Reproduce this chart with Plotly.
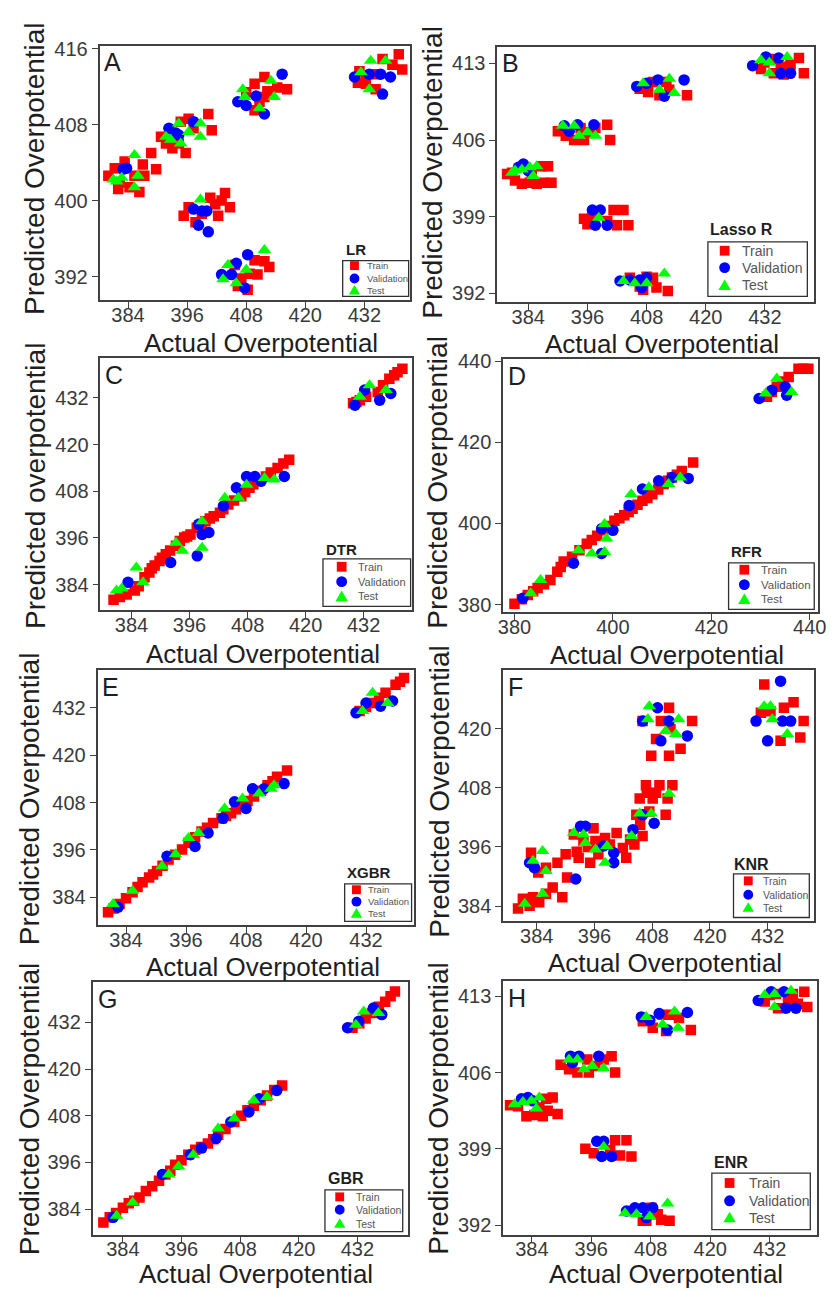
import plotly.graph_objects as go

W, H = 837, 1291
FONT = "Liberation Sans, Arial, sans-serif"

# ---------------- tick labels ----------------
TICKS_X_STD = [384, 396, 408, 420, 432]
TICKS_X_D = [380, 400, 420, 440]
TICKS_Y_A = [392, 400, 408, 416]
TICKS_Y_BH = [392, 399, 406, 413]
TICKS_Y_CEG = [384, 396, 408, 420, 432]
TICKS_Y_D = [380, 400, 420, 440]
TICKS_Y_F = [384, 396, 408, 420]

SERIES = ["Train", "Validation", "Test"]
MODELS = ["LR", "Lasso R", "DTR", "RFR", "XGBR", "KNR", "GBR", "ENR"]

# ---------------- data (Actual, Predicted) ----------------
# A : LR
A_train_x = [380.0, 381.3, 382.3, 383.3, 384.3, 385.3, 386.3, 387.0, 388.7, 389.7, 387.3, 382.0,
             390.7, 391.7, 393.0, 394.7, 395.7, 396.3, 397.3, 400.3, 401.0, 392.3, 394.3,
             395.3, 396.3, 397.7, 400.7, 401.7, 403.7, 404.7, 402.3, 399.0, 403.0,
             405.7, 407.0, 408.3, 409.7, 410.3, 411.7, 412.7, 408.7, 406.3,
             408.0, 409.7, 411.7, 409.7, 411.7, 414.3, 416.3, 412.3, 410.7,
             431.0, 430.7, 432.3, 434.3, 435.7, 437.7, 439.0, 439.7, 434.3, 432.3]
A_train_y = [402.6, 403.4, 401.9, 404.1, 401.4, 402.6, 400.9, 403.8, 405.0, 403.3, 402.6, 401.2,
             406.7, 406.0, 405.5, 408.3, 405.0, 408.6, 407.6, 409.1, 407.4, 406.4, 406.0,
             398.4, 399.3, 397.7, 400.3, 399.6, 400.8, 399.3, 398.4, 398.6, 400.0,
             393.2, 391.8, 390.6, 393.7, 392.2, 393.6, 393.0, 392.3, 391.0,
             411.4, 412.3, 413.0, 409.5, 410.9, 411.9, 411.7, 411.5, 410.4,
             413.6, 412.4, 412.3, 413.3, 414.9, 414.3, 415.4, 413.8, 411.7, 413.1]
A_val_x = [383.0, 383.7, 392.3, 393.7, 397.3, 394.3, 397.3, 398.3, 400.3, 400.0, 399.0,
           403.0, 405.0, 406.0, 408.3, 407.7, 406.3, 408.0, 410.0, 411.7, 415.3,
           430.0, 433.0, 435.3, 437.3, 435.7]
A_val_y = [403.3, 403.4, 407.6, 407.1, 408.3, 406.9, 399.1, 397.4, 396.7, 398.9, 398.9,
           392.2, 392.2, 393.4, 394.3, 390.8, 410.4, 410.0, 411.0, 409.1, 413.3,
           413.0, 413.3, 413.3, 413.0, 411.2]
A_test_x = [381.0, 382.7, 385.3, 386.0, 385.3, 381.7, 391.7, 394.3, 396.3, 398.7, 398.7, 392.7, 394.7,
            398.7, 403.3, 404.3, 406.0, 408.0, 411.7, 407.3, 407.7, 410.7, 413.0, 413.7,
            431.3, 433.3, 436.3, 433.0]
A_test_y = [402.2, 402.4, 404.8, 402.6, 401.4, 402.0, 406.7, 408.1, 407.2, 408.1, 406.7, 406.4, 406.0,
            400.1, 391.7, 393.2, 391.3, 392.7, 394.8, 411.7, 410.9, 409.7, 412.6, 410.9,
            413.5, 414.7, 414.7, 411.7]

# B : Lasso R
B_train_x = [379.7, 381.3, 382.7, 384.3, 385.7, 387.0, 388.7, 388.0, 386.7, 380.7, 384.7,
             390.0, 391.6, 393.3, 395.3, 396.0, 397.6, 400.0, 400.6, 394.6,
             395.3, 397.0, 401.3, 403.3, 404.3, 402.0, 400.0, 396.0,
             404.6, 406.6, 408.0, 410.0, 412.3, 409.3, 407.3,
             406.6, 408.3, 410.6, 412.6, 416.2, 412.0, 409.3,
             431.2, 433.2, 435.2, 437.2, 438.9, 439.9, 431.9, 435.8, 433.8]
B_train_y = [402.9, 402.3, 402.0, 402.1, 402.0, 402.1, 402.1, 403.6, 403.6, 403.0, 402.9,
             406.8, 406.4, 406.0, 406.0, 406.7, 407.1, 407.4, 406.0, 407.1,
             398.8, 399.1, 399.6, 399.6, 398.2, 398.2, 398.6, 398.3,
             393.4, 392.6, 393.5, 392.5, 392.2, 393.4, 392.3,
             410.7, 410.4, 410.1, 410.6, 410.1, 411.3, 411.3,
             412.5, 413.4, 412.7, 412.9, 413.5, 412.1, 413.1, 412.0, 412.1]
B_val_x = [382.0, 383.0, 384.0, 391.3, 392.3, 394.0, 397.3, 397.0, 398.6, 397.6, 400.0,
           402.6, 404.6, 406.6, 408.0, 407.0, 406.0, 408.0, 410.3, 411.6, 415.6,
           429.5, 432.2, 434.8, 435.2, 437.2]
B_val_y = [403.5, 403.8, 403.2, 407.3, 406.8, 407.4, 407.4, 399.6, 399.6, 398.2, 398.2,
           393.1, 393.2, 393.2, 393.4, 392.5, 410.9, 411.2, 411.5, 410.0, 411.5,
           412.8, 413.6, 413.5, 412.1, 412.1]
B_test_x = [380.7, 382.7, 384.3, 385.7, 385.0, 381.3, 391.0, 393.3, 394.3, 396.0, 397.6,
            398.3, 403.3, 405.6, 408.0, 411.6, 407.3, 410.6, 412.6, 413.6,
            431.2, 432.9, 432.9, 436.5]
B_test_y = [403.0, 403.3, 403.5, 403.6, 402.7, 403.2, 407.3, 407.3, 406.4, 406.7, 406.4,
            398.9, 393.1, 392.9, 392.9, 393.8, 411.2, 410.6, 411.6, 410.3,
            413.3, 413.1, 412.1, 413.6]

# C : DTR
C_train_x = [380.3, 381.6, 383.0, 384.7, 385.5, 386.7, 387.7, 388.2, 388.8, 389.8, 390.3, 391.1,
             392.0, 393.2, 394.0, 394.9, 395.5, 396.2, 397.5, 398.5, 399.3, 400.2, 401.0, 402.3,
             403.0, 404.0, 405.2, 406.7, 407.5, 408.4, 409.2, 410.1, 411.8, 412.8, 414.2, 415.4,
             416.6, 429.8, 430.5, 431.2, 432.5, 434.9, 436.0, 437.3, 438.3, 439.0, 440.0]
C_train_y = [380.1, 380.8, 381.5, 382.5, 383.6, 385.9, 387.1, 388.2, 388.9, 390.1, 390.9, 391.8,
             392.8, 394.0, 395.2, 396.1, 396.4, 396.9, 398.6, 399.6, 400.3, 401.0, 401.6, 402.5,
             403.4, 404.6, 405.6, 406.7, 407.8, 408.9, 409.8, 410.6, 411.8, 412.8, 414.0, 415.1,
             416.1, 430.6, 430.9, 431.4, 432.3, 433.5, 435.2, 436.9, 437.8, 438.6, 439.5]
C_val_x = [383.3, 392.1, 397.6, 397.9, 398.6, 400.0, 403.0, 405.7, 407.8, 409.5, 410.8, 415.6,
           430.2, 432.2, 435.3, 437.6]
C_val_y = [384.6, 389.7, 391.4, 399.5, 396.9, 397.4, 404.2, 408.9, 411.8, 411.8, 410.6, 411.8,
           430.1, 434.0, 431.4, 433.1]
C_test_x = [380.9, 382.0, 385.0, 386.4, 393.2, 394.5, 398.6, 398.6, 403.3, 406.1, 407.8, 411.5,
            413.5, 431.2, 433.2, 436.6]
C_test_y = [382.5, 383.0, 388.4, 384.6, 394.8, 392.7, 400.3, 393.5, 406.3, 406.3, 409.7, 411.4,
            411.0, 432.3, 435.2, 434.0]

# D : RFR
D_train_x = [380.0, 381.5, 382.7, 383.8, 384.7, 386.0, 387.3, 388.7, 389.4, 390.0, 391.7, 393.2,
             394.7, 395.7, 396.8, 398.0, 399.2, 400.3, 401.3, 402.3, 403.2, 404.0, 405.0, 406.0,
             407.0, 408.0, 409.2, 410.3, 411.2, 412.0, 413.0, 414.0, 416.3,
             431.3, 432.3, 433.3, 434.5, 435.7, 437.7, 438.7, 439.7]
D_train_y = [380.2, 381.3, 382.4, 383.3, 384.1, 385.0, 386.1, 388.1, 389.3, 390.6, 391.8, 393.4,
             395.0, 395.9, 397.0, 398.3, 399.4, 400.7, 401.3, 402.0, 402.8, 403.6, 404.6, 405.6,
             406.3, 407.2, 408.4, 409.7, 410.5, 411.3, 412.0, 412.9, 415.0,
             431.2, 432.4, 433.7, 435.0, 436.1, 438.1, 438.1, 438.1]
D_val_x = [381.7, 392.0, 397.7, 397.7, 400.0, 403.3, 406.0, 409.3, 412.0, 415.3,
           429.7, 432.3, 435.0, 435.3]
D_val_y = [381.6, 390.2, 392.6, 398.7, 398.3, 404.4, 408.5, 410.5, 411.3, 411.1,
           430.8, 432.8, 433.7, 431.6]
D_test_x = [383.3, 385.3, 393.0, 395.7, 398.3, 398.7, 398.3, 403.7, 407.3, 411.3, 413.7,
            431.0, 433.3, 436.3]
D_test_y = [382.8, 386.1, 393.4, 392.6, 399.9, 396.3, 393.0, 407.2, 408.9, 409.7, 411.3,
            432.0, 435.7, 432.4]

# E : XGBR
E_train_x = [380.4, 381.5, 382.7, 384.0, 385.3, 386.3, 387.3, 388.6, 389.4, 390.2, 391.3, 392.5,
             393.8, 395.2, 396.5, 397.8, 399.1, 400.2, 401.4, 403.1, 404.0, 405.0, 406.0, 407.0,
             408.3, 409.6, 411.0, 412.3, 413.3, 414.2, 416.2,
             430.7, 432.0, 433.3, 434.6, 435.9, 437.9, 438.8, 439.6]
E_train_y = [380.2, 381.2, 382.3, 383.8, 385.3, 386.6, 387.8, 389.0, 389.8, 390.7, 392.0, 393.6,
             394.8, 396.1, 397.8, 399.2, 400.7, 401.6, 402.8, 404.0, 404.6, 405.3, 406.3, 407.4,
             408.4, 409.5, 411.0, 412.4, 413.4, 414.5, 416.1,
             431.2, 432.2, 433.2, 434.5, 435.8, 437.8, 438.6, 439.5]
E_val_x = [382.4, 392.2, 397.8, 400.4, 403.4, 405.7, 408.0, 409.3, 411.6, 415.6,
           430.0, 432.0, 434.9, 437.3]
E_val_y = [381.5, 394.4, 396.9, 400.3, 404.0, 408.2, 406.5, 411.5, 411.5, 412.8,
           430.7, 433.2, 432.4, 433.7]
E_test_x = [381.4, 385.3, 391.2, 393.9, 396.5, 398.5, 403.7, 407.3, 410.6, 413.0, 413.6,
            431.3, 433.3, 436.3]
E_test_y = [382.3, 385.7, 391.9, 394.9, 399.0, 400.3, 406.5, 409.0, 410.3, 411.5, 412.4,
            431.2, 435.8, 433.2]

# F : KNR
F_train_x = [380.1, 381.1, 382.5, 383.2, 384.5, 385.9, 387.3, 389.3, 384.3, 385.9, 382.8, 388.3,
             390.0, 390.3, 391.7, 392.7, 393.7, 395.1, 395.8, 396.2, 398.2, 400.6, 401.9, 402.6,
             404.3, 404.7, 406.0, 405.4, 406.7, 408.1, 409.5, 411.2, 412.2, 410.8, 407.4,
             392.3, 394.6, 396.8, 399.2, 403.4, 405.5, 406.9, 408.8,
             407.8, 408.8, 411.5, 411.8, 411.5, 413.9, 416.3, 406.0, 409.8,
             431.3, 432.6, 435.4, 437.4, 439.5, 438.8, 434.7, 430.6]
F_train_y = [383.5, 385.5, 384.1, 385.8, 384.8, 386.5, 387.8, 385.8, 390.8, 391.8, 394.8, 392.8,
             394.5, 389.8, 398.5, 393.8, 397.2, 392.8, 399.8, 397.2, 397.8, 398.8, 395.8, 393.8,
             396.5, 402.5, 398.2, 405.8, 408.5, 405.8, 408.5, 405.8, 408.5, 402.5, 403.2,
             395.0, 396.0, 394.5, 396.5, 397.5, 400.5, 407.0, 407.0,
             414.5, 417.9, 424.2, 419.9, 414.5, 415.9, 421.5, 421.5, 421.5,
             428.9, 423.5, 424.2, 425.3, 421.5, 418.2, 417.5, 423.2]
F_val_x = [382.5, 383.5, 392.1, 393.1, 394.1, 397.9, 400.0, 400.0, 404.0, 406.0, 408.4,
           409.1, 406.0, 411.5, 409.8, 415.3, 429.6, 432.0, 434.7, 435.1, 436.8]
F_val_y = [392.8, 391.8, 389.5, 400.2, 400.2, 396.2, 392.8, 394.8, 399.5, 402.5, 400.8,
           424.2, 421.5, 421.5, 417.5, 418.5, 421.5, 417.5, 429.6, 421.5, 421.5]
F_test_x = [381.5, 383.2, 385.2, 385.9, 385.2, 391.7, 393.7, 394.1, 396.2, 398.2, 398.6,
            403.7, 405.4, 407.8, 411.5, 407.4, 407.1, 410.8, 412.9, 413.5,
            431.3, 432.6, 433.0, 436.1]
F_test_y = [384.5, 393.2, 395.2, 391.1, 386.5, 398.8, 398.5, 396.8, 395.5, 392.8, 396.2,
            398.2, 402.8, 402.8, 406.8, 424.5, 421.9, 419.5, 418.9, 421.9,
            424.5, 424.5, 421.9, 418.9]

# G : GBR
G_train_x = [380.0, 381.3, 382.6, 384.0, 385.2, 386.3, 387.4, 388.7, 390.0, 391.4, 392.7, 393.7,
             394.7, 396.0, 397.4, 398.8, 400.0, 401.4, 402.5, 403.5, 405.0, 406.8, 408.2, 409.5,
             410.8, 412.2, 413.5, 415.0, 416.6,
             431.0, 432.4, 433.7, 435.0, 436.4, 437.7, 438.8, 439.7]
G_train_y = [380.6, 381.9, 383.0, 384.4, 385.5, 386.2, 387.0, 388.7, 389.9, 391.3, 392.9, 393.9,
             395.4, 396.6, 398.0, 399.3, 400.0, 400.9, 402.0, 403.1, 404.6, 406.4, 408.0, 409.4,
             410.6, 412.0, 413.2, 414.6, 415.8,
             430.6, 431.8, 433.0, 434.4, 436.0, 437.3, 438.7, 439.9]
G_val_x = [382.0, 392.1, 397.8, 400.1, 403.1, 406.1, 409.8, 411.9, 415.5,
           430.0, 432.3, 435.3, 437.0]
G_val_y = [381.9, 392.9, 398.0, 399.7, 402.2, 406.4, 409.0, 412.4, 414.5,
           430.6, 432.3, 435.7, 434.0]
G_test_x = [382.7, 386.0, 393.4, 395.4, 398.4, 403.5, 406.8, 410.8, 413.5,
            431.7, 433.3, 436.3]
G_test_y = [382.3, 385.7, 392.9, 395.0, 398.0, 404.7, 407.3, 411.9, 412.8,
            431.4, 434.8, 434.4]

# H : ENR
H_train_x = [379.6, 381.2, 382.9, 384.5, 386.2, 387.2, 388.2, 389.2, 385.5, 386.9,
             389.8, 391.5, 393.2, 395.5, 396.8, 398.5, 400.1, 400.8, 395.2,
             394.8, 396.5, 400.8, 403.1, 404.1, 401.8, 399.8,
             404.5, 406.4, 408.1, 409.4, 411.8, 410.1, 407.1,
             406.4, 408.4, 411.1, 413.7, 416.1, 412.4, 410.4,
             431.0, 433.3, 435.7, 437.7, 439.0, 439.6, 432.0, 436.7, 433.7]
H_train_y = [403.0, 402.9, 402.0, 402.1, 402.0, 402.5, 403.7, 402.2, 402.8, 403.6,
             406.7, 406.3, 406.0, 406.0, 406.6, 407.2, 407.5, 406.0, 407.2,
             399.0, 398.6, 399.8, 399.8, 398.3, 398.4, 398.9,
             393.3, 392.4, 393.6, 393.0, 392.4, 392.5, 392.4,
             410.7, 410.1, 409.8, 411.0, 409.9, 411.3, 411.3,
             412.5, 413.2, 412.5, 412.3, 413.4, 412.0, 413.1, 413.2, 411.9]
H_val_x = [381.9, 383.2, 384.2, 391.8, 393.5, 397.5, 392.2, 397.1, 398.5, 398.1, 400.1,
           403.1, 404.8, 406.4, 408.4, 407.1, 406.1, 409.7, 411.4, 415.4, 407.8,
           429.7, 432.3, 434.9, 435.3, 437.3]
H_val_y = [403.6, 403.7, 403.4, 407.5, 407.5, 407.5, 406.9, 399.7, 399.7, 398.3, 398.3,
           393.3, 393.6, 393.6, 393.6, 392.7, 411.1, 411.4, 409.9, 411.5, 410.8,
           412.6, 413.4, 413.4, 411.9, 411.9]
H_test_x = [380.5, 382.2, 383.9, 385.5, 384.9, 391.5, 393.2, 394.5, 396.2, 398.5,
            398.5, 402.8, 405.1, 407.8, 411.4, 407.1, 410.4, 412.8, 413.5,
            431.0, 433.0, 433.0, 436.3]
H_test_y = [403.1, 403.3, 403.4, 403.7, 402.7, 407.2, 407.2, 406.3, 406.6, 406.4,
            399.2, 393.1, 393.0, 392.8, 394.0, 411.1, 410.4, 411.6, 410.1,
            413.1, 413.2, 412.0, 413.5]

DATA = {
    "A": ((A_train_x, A_train_y), (A_val_x, A_val_y), (A_test_x, A_test_y)),
    "B": ((B_train_x, B_train_y), (B_val_x, B_val_y), (B_test_x, B_test_y)),
    "C": ((C_train_x, C_train_y), (C_val_x, C_val_y), (C_test_x, C_test_y)),
    "D": ((D_train_x, D_train_y), (D_val_x, D_val_y), (D_test_x, D_test_y)),
    "E": ((E_train_x, E_train_y), (E_val_x, E_val_y), (E_test_x, E_test_y)),
    "F": ((F_train_x, F_train_y), (F_val_x, F_val_y), (F_test_x, F_test_y)),
    "G": ((G_train_x, G_train_y), (G_val_x, G_val_y), (G_test_x, G_test_y)),
    "H": ((H_train_x, H_train_y), (H_val_x, H_val_y), (H_test_x, H_test_y)),
}

# ---------------- layout (pixels) ----------------
PANELS = [
    dict(k="A", model=MODELS[0], box=(96, 37, 411, 294), xr=(378.2, 441.2), yr=(389.5, 416.3),
         xt=TICKS_X_STD, yt=TICKS_Y_A, ylab="Predicted Overpotential", xtp=(260, 337), ytp=(30, 161),
         leg=dict(box=(343, 254, 410, 290), tp=(344, 243), tfs=15, sx=355, lx=366, rows=(259, 272, 284), fs=9.5, ss=10)),
    dict(k="B", model=MODELS[1], box=(500, 38, 822, 296), xr=(377.7, 442.0), yr=(391.16, 414.54),
         xt=TICKS_X_STD, yt=TICKS_Y_BH, ylab="Predicted Overpotential", xtp=(667, 338), ytp=(434, 165),
         leg=dict(box=(714, 235, 815, 290), tp=(714, 223), tfs=16, sx=731, lx=747, rows=(244, 261, 279), fs=14, ss=11)),
    dict(k="C", model=MODELS[2], box=(97, 352, 413, 607), xr=(377.6, 441.9), yr=(377.4, 442.3),
         xt=TICKS_X_STD, yt=TICKS_Y_CEG, ylab="Predicted overpotential", xtp=(262, 651), ytp=(31, 482),
         leg=dict(box=(323, 555, 412, 603), tp=(324, 546), tfs=15, sx=342, lx=357, rows=(563, 578, 593), fs=11, ss=11)),
    dict(k="D", model=MODELS[3], box=(506, 353, 826, 609), xr=(377.7, 441.7), yr=(378.1, 440.6),
         xt=TICKS_X_D, yt=TICKS_Y_D, ylab="Predicted Overpotential", xtp=(672, 652), ytp=(439, 478),
         leg=dict(box=(735, 559, 822, 606), tp=(735, 548), tfs=15, sx=751, lx=766, rows=(566, 581, 596), fs=11.5, ss=11)),
    dict(k="E", model=MODELS[4], box=(94, 667, 415, 925), xr=(378.3, 441.5), yr=(376.9, 441.6),
         xt=TICKS_X_STD, yt=TICKS_Y_CEG, ylab="Predicted Overpotential", xtp=(262, 967), ytp=(25, 797),
         leg=dict(box=(345, 883, 413, 921), tp=(345, 872), tfs=15, sx=357, lx=367, rows=(889, 901, 913), fs=9.5, ss=10)),
    dict(k="F", model=MODELS[5], box=(506, 667, 822, 921), xr=(377.0, 441.7), yr=(380.9, 431.9),
         xt=TICKS_X_STD, yt=TICKS_Y_F, ylab="Predicted Overpotential", xtp=(670, 963), ytp=(442, 790),
         leg=dict(box=(740, 873, 817, 917), tp=(738, 864), tfs=16, sx=755, lx=768, rows=(880, 894, 907), fs=10.5, ss=10)),
    dict(k="G", model=MODELS[6], box=(89, 982, 409, 1237), xr=(377.8, 442.3), yr=(377.5, 442.4),
         xt=TICKS_X_STD, yt=TICKS_Y_CEG, ylab="Predicted Overpotential", xtp=(255, 1277), ytp=(25, 1110),
         leg=dict(box=(325, 1192, 404, 1234), tp=(326, 1180), tfs=16, sx=340, lx=355, rows=(1199, 1212, 1226), fs=10.5, ss=10)),
    dict(k="H", model=MODELS[7], box=(506, 981, 825, 1237), xr=(378.2, 441.6), yr=(391.15, 414.4),
         xt=TICKS_X_STD, yt=TICKS_Y_BH, ylab="Predicted Overpotential", xtp=(671, 1277), ytp=(441, 1110),
         leg=dict(box=(718, 1175, 818, 1232), tp=(718, 1164), tfs=16, sx=736, lx=754, rows=(1185, 1203, 1220), fs=14, ss=11)),
]

COLORS = ["#FF0000", "#0000FF", "#00FF00"]
SYMBOLS = ["square", "circle", "triangle-up"]
MSIZE = [10.5, 11.5, 12]
AXC = "#404040"


def fx(p):
    return p / W


def fy(p):
    return 1 - p / H


fig = go.Figure()
annotations = []
shapes = []
layout = {}

for i, P in enumerate(PANELS):
    n = "" if i == 0 else str(i + 1)
    xa, ya = "x" + n, "y" + n
    l, t, r, b = P["box"]
    for s in range(3):
        xs, ys = DATA[P["k"]][s]
        fig.add_trace(go.Scatter(
            x=xs, y=ys, mode="markers", name=SERIES[s], xaxis=xa, yaxis=ya,
            marker=dict(symbol=SYMBOLS[s], size=MSIZE[s], color=COLORS[s], line=dict(width=0)),
            showlegend=False))
    common = dict(showgrid=False, zeroline=False, showline=True, mirror=True, linecolor=AXC,
                  linewidth=1.6, ticks="outside", ticklen=6, tickwidth=1.3, tickcolor=AXC,
                  tickfont=dict(family=FONT, size=20, color="#3a3a3a"))
    layout["xaxis" + n] = dict(common, domain=[fx(l), fx(r)], range=list(P["xr"]), anchor=ya,
                               tickmode="array", tickvals=P["xt"], ticklabelstandoff=-10)
    layout["yaxis" + n] = dict(common, domain=[fy(b), fy(t)], range=list(P["yr"]), anchor=xa,
                               tickmode="array", tickvals=P["yt"])
    # axis titles
    annotations.append(dict(text="Actual Overpotential", xref="paper", yref="paper",
                            x=fx(P["xtp"][0]), y=fy(P["xtp"][1]), xanchor="center", yanchor="middle",
                            showarrow=False, font=dict(family=FONT, size=26, color="#1e1e1e")))
    annotations.append(dict(text=P["ylab"], xref="paper", yref="paper", textangle=-90,
                            x=fx(P["ytp"][0]), y=fy(P["ytp"][1]), xanchor="center", yanchor="middle",
                            showarrow=False, font=dict(family=FONT, size=28, color="#1e1e1e")))
    # panel letter
    annotations.append(dict(text=P["k"], xref="paper", yref="paper", x=fx(l + 3), y=fy(t + 17),
                            xanchor="left", yanchor="middle", showarrow=False,
                            font=dict(family=FONT, size=25, color="#1e1e1e")))
    # legend
    L = P["leg"]
    bx0, by0, bx1, by1 = L["box"]
    shapes.append(dict(type="rect", xref="paper", yref="paper", x0=fx(bx0), x1=fx(bx1),
                       y0=fy(by1), y1=fy(by0), line=dict(color="#303030", width=1.3),
                       fillcolor="rgba(255,255,255,0)"))
    annotations.append(dict(text="<b>" + P["model"] + "</b>", xref="paper", yref="paper",
                            x=fx(L["tp"][0]), y=fy(L["tp"][1]), xanchor="left", yanchor="middle",
                            showarrow=False, font=dict(family=FONT, size=L["tfs"], color="#1e1e1e")))
    h = L["ss"] / 2
    sx = L["sx"]
    for s in range(3):
        ry = L["rows"][s]
        if s == 0:
            shapes.append(dict(type="rect", xref="paper", yref="paper", x0=fx(sx - h * 0.9),
                               x1=fx(sx + h * 0.9), y0=fy(ry + h * 0.9), y1=fy(ry - h * 0.9),
                               fillcolor=COLORS[0], line=dict(width=0)))
        elif s == 1:
            shapes.append(dict(type="circle", xref="paper", yref="paper", x0=fx(sx - h), x1=fx(sx + h),
                               y0=fy(ry + h), y1=fy(ry - h), fillcolor=COLORS[1], line=dict(width=0)))
        else:
            path = "M {:.5f},{:.5f} L {:.5f},{:.5f} L {:.5f},{:.5f} Z".format(
                fx(sx), fy(ry - h * 1.1), fx(sx - h * 1.15), fy(ry + h * 0.85),
                fx(sx + h * 1.15), fy(ry + h * 0.85))
            shapes.append(dict(type="path", xref="paper", yref="paper", path=path,
                               fillcolor=COLORS[2], line=dict(width=0)))
        annotations.append(dict(text=SERIES[s], xref="paper", yref="paper", x=fx(L["lx"]), y=fy(ry),
                                xanchor="left", yanchor="middle", showarrow=False,
                                font=dict(family=FONT, size=L["fs"], color="#555555")))

fig.update_layout(
    width=W, height=H, margin=dict(l=0, r=0, t=0, b=0),
    paper_bgcolor="white", plot_bgcolor="white", showlegend=False,
    annotations=annotations, shapes=shapes, **layout)

fig.write_html("out.html")
